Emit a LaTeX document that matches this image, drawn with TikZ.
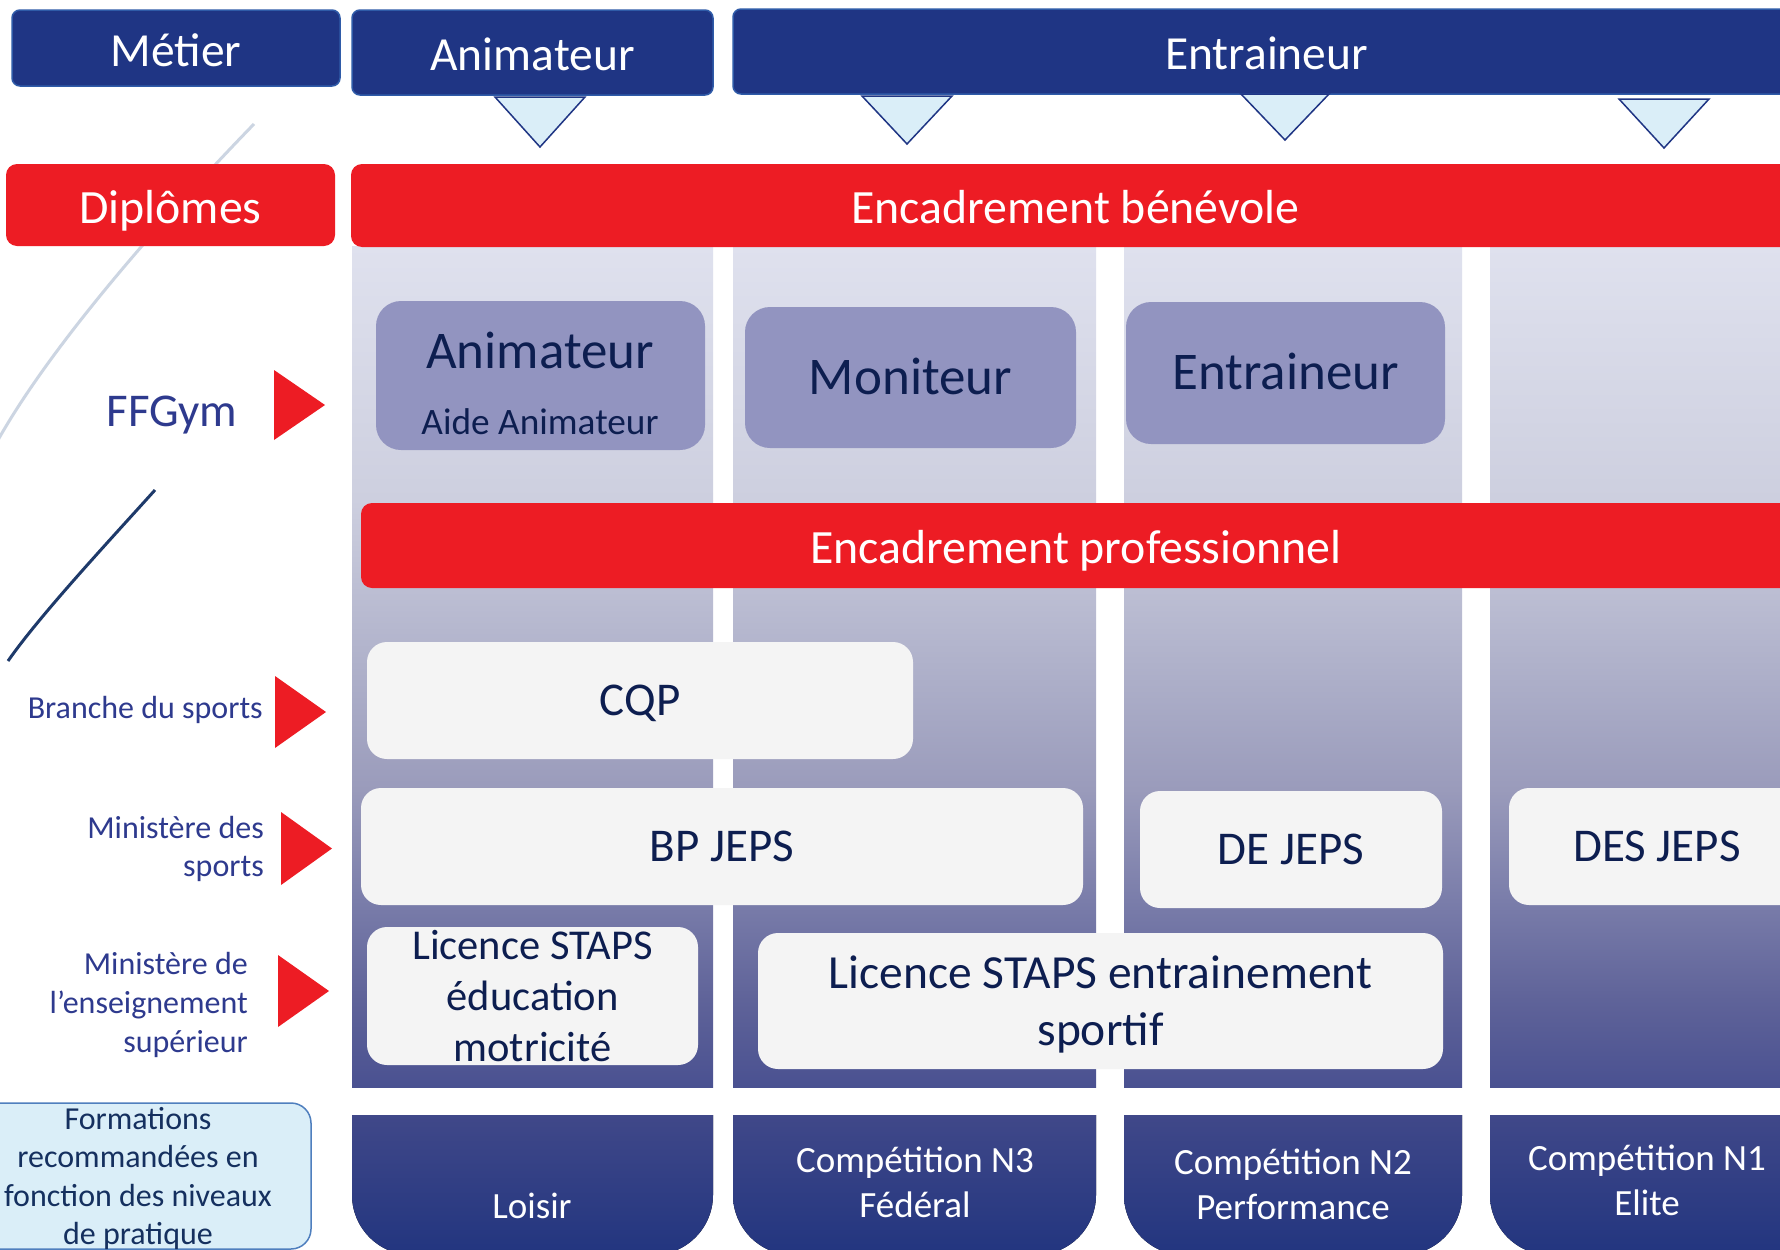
\documentclass[tikz,border=0pt]{standalone}
\usepackage{fontspec}
\setmainfont{Carlito}

\definecolor{headblue}{HTML}{1F3584}
\definecolor{headedge}{HTML}{2F5BA8}
\definecolor{diplred}{HTML}{ED1C24}
\definecolor{pointfill}{HTML}{DAEEF8}
\definecolor{fedbox}{HTML}{9294C0}
\definecolor{navytext}{HTML}{0D1E50}
\definecolor{labelblue}{HTML}{2E3A8E}
\definecolor{degreebox}{HTML}{F4F4F4}
\definecolor{tabtop}{HTML}{404889}
\definecolor{tabbot}{HTML}{22357F}
\definecolor{formfill}{HTML}{DAEEF8}
\definecolor{formedge}{HTML}{4F7FBE}
\definecolor{formtext}{HTML}{15305F}
\definecolor{swoosh}{HTML}{CCD5E2}
\definecolor{swooshdark}{HTML}{1E3A6A}

% column background, light at the top and dark at the bottom
\definecolor{col0}{HTML}{4A5191}
\definecolor{col1}{HTML}{5F6399}
\definecolor{col2}{HTML}{7A7DAA}
\definecolor{col3}{HTML}{9A9BBB}
\definecolor{col4}{HTML}{A9ABC6}
\definecolor{col5}{HTML}{BCBED3}
\definecolor{col6}{HTML}{CDCFDF}
\definecolor{col7}{HTML}{DFE1EE}
\pgfdeclareverticalshading{colshade}{100bp}{
    color(0bp)=(col0); color(25bp)=(col0); color(30.2bp)=(col1);
    color(36.1bp)=(col2); color(42.7bp)=(col3); color(48bp)=(col4);
    color(54.5bp)=(col5); color(59.9bp)=(col6); color(75bp)=(col7);
    color(100bp)=(col7)}

\begin{document}
\begin{tikzpicture}
    [
    x=1pt, y=-1pt,
    head/.style={
        fill=headblue,
        draw=headedge,
        line width=1.5pt,
        rounded corners=8pt,
        inner sep=0pt,
        text=white,
        font=\fontsize{47.5}{57}\selectfont,
        text height=36pt, text depth=0pt
    },
    redbar/.style={
        fill=diplred,
        rounded corners=11pt,
        inner sep=0pt,
        text=white,
        font=\fontsize{47.8}{57}\selectfont,
        text height=36.5pt, text depth=0pt
    },
    column/.style={
        shade,
        shading=colshade
    },
    tab/.style={
        top color=tabtop,
        bottom color=tabbot
    },
    fed/.style={
        fill=fedbox,
        rounded corners=25pt,
        inner sep=0pt,
        text=navytext
    },
    fedtext/.style={
        text=navytext,
        inner sep=0pt,
        font=\fontsize{53}{63}\selectfont,
        text height=33.5pt, text depth=0pt
    },
    degree/.style={
        fill=degreebox,
        rounded corners=20pt,
        inner sep=0pt,
        text=navytext,
        align=center % several lines in the STAPS boxes
    },
    degreetext/.style={
        font=\fontsize{47}{56}\selectfont,
        text height=29.7pt, text depth=0pt
    },
    source/.style={
        text=labelblue,
        font=\fontsize{32}{38}\selectfont,
        align=right,
        anchor=east,
        inner sep=0pt,
        text depth=0pt
    },
    pointer/.style={
        fill=pointfill,
        draw=headblue,
        line width=1.5pt
    },
    marker/.style={
        fill=diplred
    },
    level/.style={
        text=white,
        font=\fontsize{37}{45}\selectfont,
        align=center,
        inner sep=0pt,
        text depth=0pt
    },
    formations/.style={
        fill=formfill,
        draw=formedge,
        line width=1.5pt,
        rounded corners=20pt,
        inner sep=0pt,
        text=formtext,
        align=center,
        font=\fontsize{32}{38.5}\selectfont,
        text depth=0pt
    },
    ]

    \useasboundingbox (0,0) rectangle (1780,1250);
    \clip (0,0) rectangle (1780,1250);
    \fill[white] (0,0) rectangle (1780,1250);

    % swooshes on the left
    \draw[swoosh, line width=3pt] (254,124) .. controls (190,190) and (60,330) .. (-2,440);
    \draw[swooshdark, line width=3pt] (155,490) .. controls (110,540) and (40,615) .. (8,661);

    % columns and level tabs
    \foreach \a/\b in {352/713, 733/1096, 1124/1462, 1490/1820}
        \path[column] (\a,246) rectangle (\b,1087);
    \foreach \a/\b in {352/713, 733/1096, 1124/1462, 1490/1820}
        \fill[tab] (\a,1115) -- (\a,1195) arc[start angle=180, end angle=90, radius=60]
            -- (\b-60,1255) arc[start angle=90, end angle=0, radius=60] -- (\b,1115) -- cycle;

    % metier row
    \draw (176,48) node[head, minimum width=328pt, minimum height=76pt] (metier) {Métier};
    \draw (532.5,52.5) node[head, minimum width=361pt, minimum height=85pt] (animateur) {Animateur};
    \draw (1266.5,51.5) node[head, minimum width=1067pt, minimum height=85pt] (entraineur) {Entraineur};
    \foreach \x/\t/\b/\w in {540/97/147/45, 907/96/144/45, 1285/94/140/44, 1664/99/148/45}
        \draw[pointer] (\x-\w,\t) -- (\x+\w,\t) -- (\x,\b) -- cycle;

    % diplomas
    \draw (170.5,205) node[redbar, minimum width=329pt, minimum height=82pt] (diplomes) {Diplômes};
    \draw (1075.5,205.5) node[redbar, minimum width=1449pt, minimum height=83pt] (benevole) {Encadrement bénévole};
    \draw (1076,545.5) node[redbar, minimum width=1430pt, minimum height=85pt] (pro) {Encadrement professionnel};

    % FFGym
    \draw (540.5,375.5) node[fed, minimum width=329pt, minimum height=149pt] (ffanimateur) {};
    \draw (540,352) node[fedtext] (ffanimateurtitle) {Animateur};
    \draw (540,423) node[fedtext, font=\fontsize{37.3}{44}\selectfont, text height=23.5pt] (aide) {Aide Animateur};
    \draw (910.5,377.5) node[fed, fedtext, minimum width=331pt, minimum height=141pt] (moniteur) {Moniteur};
    \draw (1285.5,373) node[fed, fedtext, minimum width=319pt, minimum height=142pt] (ffentraineur) {Entraineur};

    % other diplomas
    \draw (640,700.5) node[degree, degreetext, minimum width=546pt, minimum height=117pt] (cqp) {CQP};
    \draw (722,846.5) node[degree, degreetext, minimum width=722pt, minimum height=117pt] (bpjeps) {BP JEPS};
    \draw (1291,849.5) node[degree, degreetext, minimum width=302pt, minimum height=117pt] (dejeps) {DE JEPS};
    \draw (1657,846.5) node[degree, degreetext, minimum width=296pt, minimum height=117pt] (desjeps) {DES JEPS};
    \draw (532.5,996) node[degree, minimum width=331pt, minimum height=138pt,
        font=\fontsize{42.5}{51}\selectfont, text depth=0pt] (stapsedu) {Licence STAPS\\éducation\\motricité};
    \draw (1100.5,1001) node[degree, minimum width=685pt, minimum height=136pt,
        font=\fontsize{47.5}{57}\selectfont, text depth=0pt] (stapsentr) {Licence STAPS entrainement\\sportif};

    % sources
    \draw (172,412) node[text=labelblue, inner sep=0pt, font=\fontsize{47}{56}\selectfont,
        text height=29.7pt, text depth=0pt] (ffgym) {FFGym};
    \draw (263,707) node[source] (branche) {Branche du sports};
    \draw (264,846) node[source] (minsport) {Ministère des\\sports};
    \draw (248,1002) node[source, font=\fontsize{32}{39}\selectfont] (minsup) {Ministère de\\l’enseignement\\supérieur};
    \foreach \l/\t/\b in {274/370/440, 275/676/748, 281/812/885, 278/955/1027}
        \fill[marker] (\l,\t) -- (\l+51,{(\t+\b)/2}) -- (\l,\b) -- cycle;

    % levels
    \draw (138,1176) node[formations, minimum width=346pt, minimum height=146pt] (formations)
        {Formations\\recommandées en\\fonction des niveaux\\de pratique};
    \draw (532,1206) node[level] (loisir) {Loisir};
    \draw (915,1182) node[level] (n3) {Compétition N3\\Fédéral};
    \draw (1293,1184) node[level] (n2) {Compétition N2\\Performance};
    \draw (1647,1180) node[level] (n1) {Compétition N1\\Elite};

\end{tikzpicture}
\end{document}
